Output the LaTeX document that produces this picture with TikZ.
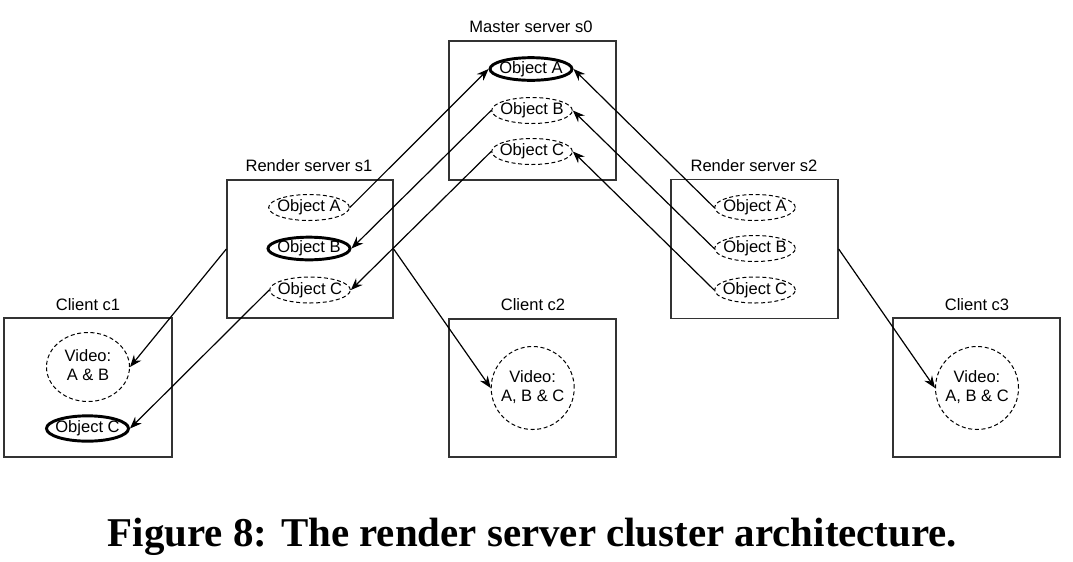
\documentclass[tikz,border=0pt]{standalone}
\usepackage{fontspec}
\setmainfont{Liberation Sans}
\newfontfamily\capfont{Liberation Serif}
\usetikzlibrary{arrows.meta,shapes.geometric}
\newcommand{\objtxt}[1]{\makebox[0pt]{#1}}
\newcommand{\vidtxt}[1]{\makebox[0pt]{\begin{tabular}{@{}c@{}}Video:\\#1\end{tabular}}}
\begin{document}
\begin{tikzpicture}[x=0.75pt,y=-0.75pt,
  font=\fontsize{12.4}{14.6}\selectfont,
  srvbox/.style={draw=black!80, line width=1pt, inner sep=0pt, minimum width=125.25pt, minimum height=104.25pt},
  dobj/.style={ellipse, draw, dash pattern=on 3pt off 2pt, line width=0.75pt, inner sep=0pt, minimum width=60.5pt, minimum height=19.5pt},
  tobj/.style={ellipse, draw, line width=2.2pt, inner sep=0pt, minimum width=61.5pt, minimum height=17pt},
  vid/.style={ellipse, draw, dash pattern=on 3pt off 2pt, line width=0.75pt, inner sep=0pt, minimum width=62.25pt, minimum height=62.25pt},
  ttl/.style={anchor=base, inner sep=0pt},
  arr/.style={-{Stealth[length=9pt,width=7pt,inset=3pt]}, line width=0.9pt}]
\useasboundingbox (0,0) rectangle (1073,561);

% boxes
\node[srvbox] (s0) at (532.5,110.5) {};
\node[srvbox, minimum width=124.5pt, minimum height=103.5pt] (s1) at (310,249) {};
\node[srvbox] (s2) at (754.5,249) {};
\node[srvbox, minimum width=126pt] (c1) at (88,387.5) {};
\node[srvbox, minimum height=103.5pt] (c2) at (532.5,388) {};
\node[srvbox] (c3) at (976.5,387.5) {};

% titles
\node[ttl] (s0t) at (531,32.5) {Master server s0};
\node[ttl] (s1t) at (309,171.5) {Render server s1};
\node[ttl] (s2t) at (754,171) {Render server s2};
\node[ttl] (c1t) at (88,310.5) {Client c1};
\node[ttl] (c2t) at (533,310.5) {Client c2};
\node[ttl] (c3t) at (977,310.5) {Client c3};

% master objects
\node[tobj] (s0A) at (531,69) {\objtxt{Object A}};
\node[dobj] (s0B) at (532,110.5) {\objtxt{Object B}};
\node[dobj] (s0C) at (532,151.5) {\objtxt{Object C}};

% render s1 objects
\node[dobj] (s1A) at (309,207.5) {\objtxt{Object A}};
\node[tobj] (s1B) at (309,248.5) {\objtxt{Object B}};
\node[dobj] (s1C) at (310,290) {\objtxt{Object C}};

% render s2 objects
\node[dobj] (s2A) at (755,207.5) {\objtxt{Object A}};
\node[dobj] (s2B) at (755,248.5) {\objtxt{Object B}};
\node[dobj] (s2C) at (755,290) {\objtxt{Object C}};

% clients
\node[vid, minimum height=51.75pt] (c1V) at (88,367) {\vidtxt{A \& B}};
\node[tobj, minimum height=19pt] (c1C) at (87.5,428.5) {\objtxt{Object C}};
\node[vid] (c2V) at (532.7,388) {\vidtxt{A, B \& C}};
\node[vid] (c3V) at (977,388) {\vidtxt{A, B \& C}};

% arrows
\draw[arr] (s1A.east) -- (s0A.west);
\draw[arr] (s0B.west) -- (s1B.east);
\draw[arr] (s0C.west) -- (s1C.east);
\draw[arr] (s2A.west) -- (s0A.east);
\draw[arr] (s2B.west) -- (s0B.east);
\draw[arr] (s2C.west) -- (s0C.east);
\draw[arr] (s1.west) -- (c1V.east);
\draw[arr] (s1C.west) -- (c1C.east);
\draw[arr] (s1.east) -- (c2V.west);
\draw[arr] (s2.east) -- (c3V.west);

% caption
\node[anchor=base, inner sep=0pt] (cap) at (532.5,546.7)
  {\resizebox{636.75pt}{!}{\capfont\bfseries\fontsize{28}{32}\selectfont Figure 8: The render server cluster architecture.}};
\end{tikzpicture}
\end{document}
